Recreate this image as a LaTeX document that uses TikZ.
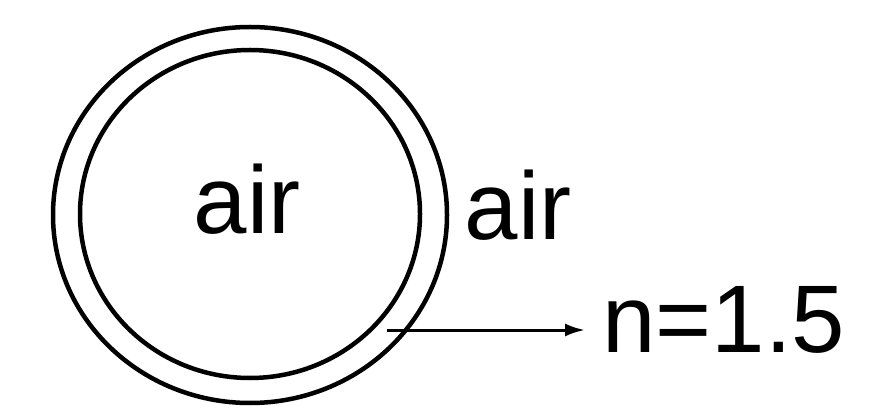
\documentclass[tikz,border=0pt]{standalone}
\usepackage{fontspec}
\setmainfont{Liberation Sans}
\usetikzlibrary{arrows.meta}
\begin{document}
\begin{tikzpicture}[x=1pt,y=-1pt,
  ring/.style={line width=4.5pt},
  lbl/.style={inner sep=0pt,anchor=base west,font=\fontsize{96}{110}\selectfont},
  pointer/.style={line width=3pt,-{Latex[length=20pt,width=13pt]}}]
\useasboundingbox (0,0) rectangle (877,411);
\draw[ring] (250,215) ellipse [x radius=197, y radius=188];
\draw[ring] (250,214) ellipse [x radius=170, y radius=164];
\node[lbl] (inair) at (193.5,234) {air};
\node[lbl] (outair) at (464.5,240) {air};
\node[lbl] (nval) at (602,352) {n=1.5};
\coordinate (tail) at (387,330);
\coordinate (tip) at (585,330);
\draw[pointer] (tail) -- (tip);
\end{tikzpicture}
\end{document}
